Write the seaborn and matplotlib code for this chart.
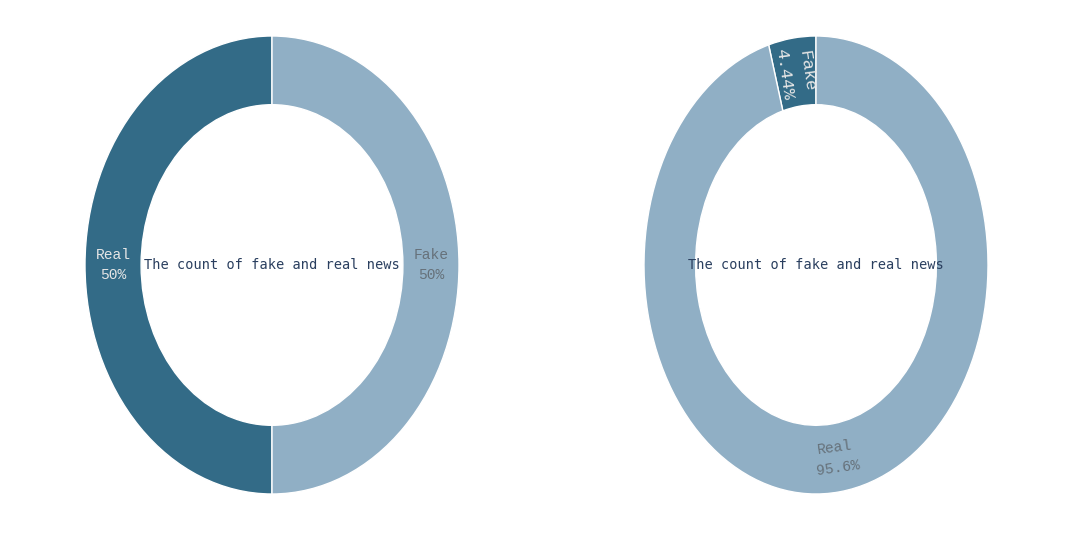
import numpy as np
import matplotlib
matplotlib.use("Agg")
import matplotlib.pyplot as plt
import seaborn as sns

sns.set_theme(style="white")

# data
left_labels = ["Real", "Fake"]
left_values = [50.0, 50.0]
right_labels = ["Fake", "Real"]
right_values = [4.44, 95.56]
center_title = "The count of fake and real news"

colors = ["#336b87", "#90afc5"]
text_colors = ["#e6e6e6", "#66717a"]

fig = plt.figure(figsize=(10.88, 5.43), dpi=100)
W, H = 1088, 543
ax_left = fig.add_axes([85 / W, 49 / H, 374 / W, 458 / H])
ax_right = fig.add_axes([644 / W, 49 / H, 344 / W, 458 / H])


def donut(ax, labels, values, orient, sizes):
    wedges, _ = ax.pie(values, colors=colors, startangle=90, counterclock=True,
                       wedgeprops=dict(width=0.3, edgecolor="white", linewidth=1))
    total = sum(values)
    for w, lab, val, tc, o, fs in zip(wedges, labels, values, text_colors, orient, sizes):
        mid = (w.theta1 + w.theta2) / 2
        x = 0.85 * np.cos(np.deg2rad(mid))
        y = 0.85 * np.sin(np.deg2rad(mid))
        if o == "radial":
            rot = mid - 180 if np.cos(np.deg2rad(mid)) < 0 else mid
        elif o == "tangential":
            rot = mid - 270 if np.sin(np.deg2rad(mid)) < 0 else mid - 90
        else:
            rot = 0
        pct = 100 * val / total
        ax.text(x, y, f"{lab}\n{pct:.3g}%", ha="center", va="center",
                rotation=rot, rotation_mode="anchor", color=tc,
                fontsize=fs, family="Liberation Mono", linespacing=1.6)
    ax.text(0, 0, center_title, ha="center", va="center", color="#2a3f5f",
            fontsize=9.8, family="DejaVu Sans Mono")
    ax.set_aspect("auto")
    ax.set_xlim(-1, 1)
    ax.set_ylim(-1, 1)
    ax.axis("off")


donut(ax_left, left_labels, left_values, ["h", "h"], [10.5, 10.5])
donut(ax_right, right_labels, right_values, ["radial", "tangential"], [12.5, 10.5])

fig.savefig("out.png", dpi=100, facecolor="white")
